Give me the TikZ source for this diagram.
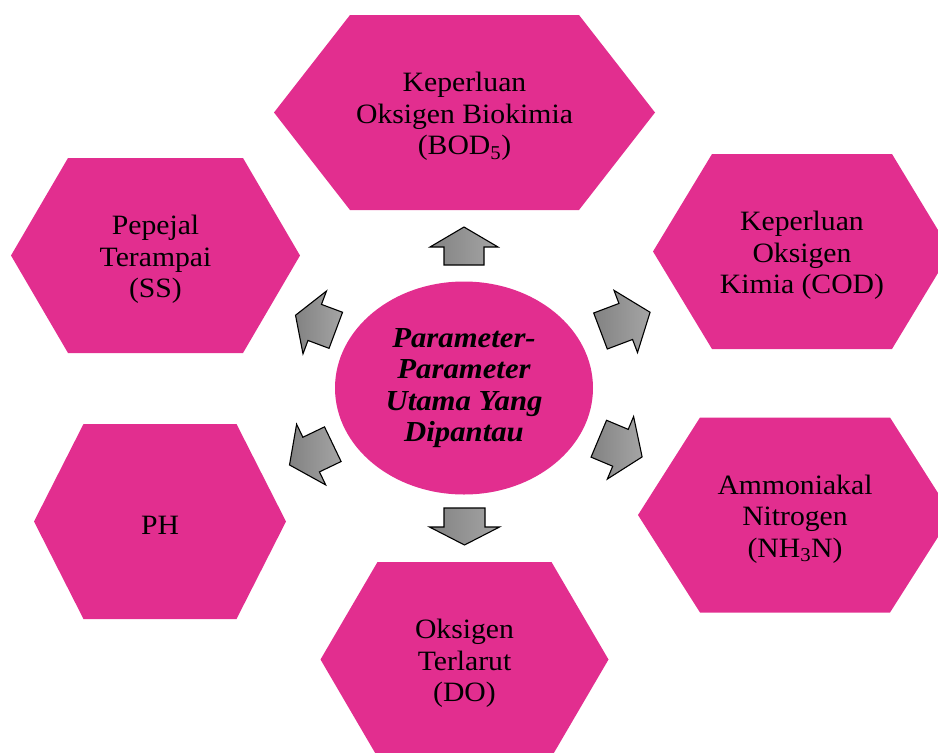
\documentclass[tikz,border=0pt]{standalone}
\usepackage{fontspec}
\setmainfont{Liberation Serif}[FakeStretch=1.06]
\usetikzlibrary{shapes.geometric}
\definecolor{pinkfill}{RGB}{226,46,143}
\definecolor{arrlight}{RGB}{165,165,165}
\definecolor{arrdark}{RGB}{130,130,130}
\tikzset{
  hexfill/.style={fill=pinkfill},
  hextext/.style={align=center, font=\fontsize{28}{31.5}\selectfont, text=black, inner sep=0pt},
  centertext/.style={align=center, font=\fontsize{29}{31.5}\selectfont\bfseries\itshape, text=black},
  blockarrow/.style={draw=black, line width=1.1pt, line join=miter, left color=arrdark, right color=arrlight},
}
% name, cx, cy, half width, inset, text
\newcommand\hexagonshape[6]{%
  \fill[hexfill] ({#2-#4},#3) -- ({#2-#4+#5},{#3-97.5}) -- ({#2+#4-#5},{#3-97.5})
    -- ({#2+#4},#3) -- ({#2+#4-#5},{#3+97.5}) -- ({#2-#4+#5},{#3+97.5}) -- cycle;
  \node[hextext] (#1) at (#2,{#3+4}) {#6};
}
% back x, back y, angle, length, head length, shaft width, head width
\newcommand\blockarr[7]{%
  \begin{scope}[shift={(#1,#2)},rotate=#3]
    \path[blockarrow] (0,{#6/2}) -- ({#4-#5},{#6/2}) -- ({#4-#5},{#7/2}) -- (#4,0)
      -- ({#4-#5},{-#7/2}) -- ({#4-#5},{-#6/2}) -- (0,{-#6/2}) -- cycle;
  \end{scope}
}
\begin{document}
\begin{tikzpicture}[x=1pt,y=-1pt]
  \useasboundingbox (0,0) rectangle (938,753);
  \clip (0,0) rectangle (938,753);
  \hexagonshape{bod}{464.5}{112.5}{190.5}{76}{Keperluan\\Oksigen Biokimia\\(BOD\textsubscript{5})}
  \hexagonshape{ss}{155.5}{255.5}{144.5}{57}{Pepejal\\Terampai\\(SS)}
  \hexagonshape{cod}{802}{251.5}{149}{59}{Keperluan\\Oksigen\\Kimia (COD)}
  \hexagonshape{nh}{795}{515}{157}{62}{Ammoniakal\\Nitrogen\\(NH\textsubscript{3}N)}
  \hexagonshape{ph}{160}{521.5}{126}{49.5}{PH}
  \hexagonshape{do}{464.5}{659.5}{144}{57}{Oksigen\\Terlarut\\(DO)}
  \node[ellipse, fill=pinkfill, minimum width=258pt, minimum height=213pt, inner sep=0pt, centertext]
    (center) at (464,388) {Parameter-\\Parameter\\Utama Yang\\Dipantau};
  \blockarr{464}{265}{90}{38}{20}{40}{68}
  \blockarr{464.5}{508}{-90}{37}{18}{41}{70}
  \blockarr{600.5}{331}{20.7}{53}{26}{38.5}{66.5}
  \blockarr{598.8}{438.7}{-22.8}{47}{23.5}{40}{67.8}
  \blockarr{335.8}{330.3}{159.5}{43}{20.5}{38.5}{67}
  \blockarr{332.8}{444.2}{205.6}{48}{24}{38.4}{67.3}
\end{tikzpicture}
\end{document}
